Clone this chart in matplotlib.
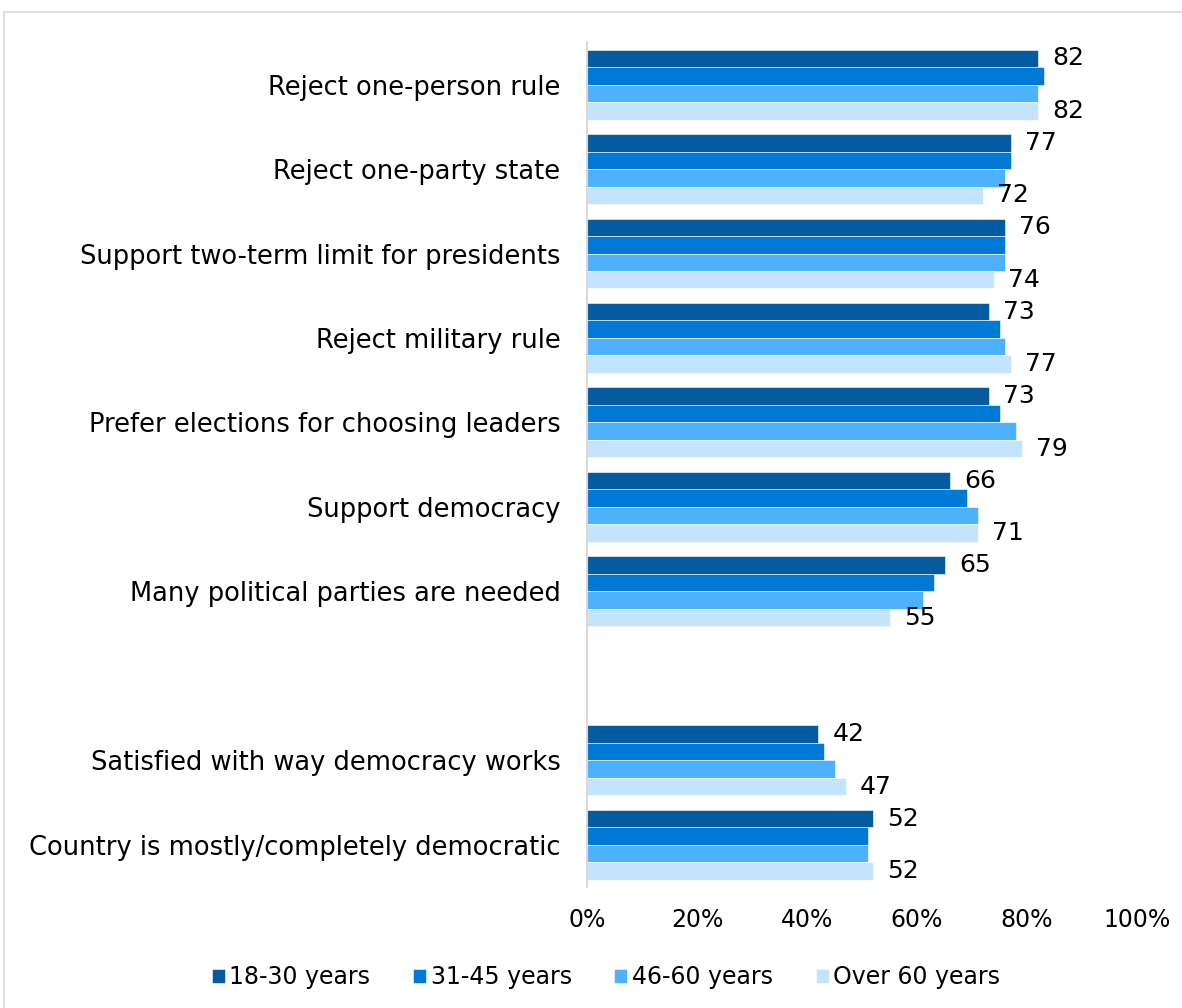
import matplotlib
matplotlib.use("Agg")
import matplotlib.pyplot as plt
import numpy as np
from matplotlib.patches import Rectangle

categories = [
    "Reject one-person rule",
    "Reject one-party state",
    "Support two-term limit for presidents",
    "Reject military rule",
    "Prefer elections for choosing leaders",
    "Support democracy",
    "Many political parties are needed",
    "Satisfied with way democracy works",
    "Country is mostly/completely democratic",
]
series_names = ["18-30 years", "31-45 years", "46-60 years", "Over 60 years"]
age_18_30 = [82, 77, 76, 73, 73, 66, 65, 42, 52]
age_31_45 = [83, 77, 76, 75, 75, 69, 63, 43, 51]
age_46_60 = [82, 76, 76, 76, 78, 71, 61, 45, 51]
age_over60 = [82, 72, 74, 77, 79, 71, 55, 47, 52]
xticks = [0, 20, 40, 60, 80, 100]
xtick_labels = ["0%", "20%", "40%", "60%", "80%", "100%"]

colors = ["#045BA0", "#0078D6", "#4DB1FE", "#C4E4FE"]
series = [age_18_30, age_31_45, age_46_60, age_over60]

plt.rcParams['font.family'] = ['DejaVu Sans']
fig = plt.figure(figsize=(11.82, 10.08), dpi=100)
fig.patches.append(Rectangle((4/1182, -0.01), 1.2, 1 - 12/1008 + 0.01, transform=fig.transFigure,
                             fill=False, edgecolor="#D9D9D9", linewidth=1.2))
ax = fig.add_axes([587/1182, 0.12, (1137 - 587)/1182, 0.838])

n = len(categories)
idx = np.arange(n)
ypos = idx + (idx >= 7)  # blank slot before the last two items
bh = 0.207
offsets = np.array([-1.5, -0.5, 0.5, 1.5]) * bh
for s, (vals, col, name) in enumerate(zip(series, colors, series_names)):
    ax.barh(ypos + offsets[s], vals, height=bh, color=col, label=name,
            edgecolor="white", linewidth=0.4)

for y, v in zip(ypos, age_18_30):
    ax.text(v + 2.6, y + offsets[0], str(v), va="center", ha="left", fontsize=18, color="#000000")
for y, v in zip(ypos, age_over60):
    ax.text(v + 2.6, y + offsets[3], str(v), va="center", ha="left", fontsize=18, color="#000000")

ax.set_ylim(ypos[-1] + 0.5, -0.5)
ax.set_xlim(0, 100)
ax.set_yticks(ypos)
ax.set_yticklabels(categories, fontsize=18.5)
ax.set_xticks(xticks)
ax.set_xticklabels(xtick_labels, fontsize=17)
ax.tick_params(axis="both", length=0)
ax.tick_params(axis="x", pad=15)
ax.tick_params(axis="y", pad=19)
for sp in ["top", "right", "bottom"]:
    ax.spines[sp].set_visible(False)
ax.spines["left"].set_color("#D9D9D9")
ax.spines["left"].set_linewidth(1.5)

fig.legend(loc="center", bbox_to_anchor=(606/1182, 1 - 977/1008), ncol=4, frameon=False,
           fontsize=17, handlelength=0.55, handleheight=0.55, handletextpad=0.2, columnspacing=1.8)

fig.savefig("out.png", dpi=100)
